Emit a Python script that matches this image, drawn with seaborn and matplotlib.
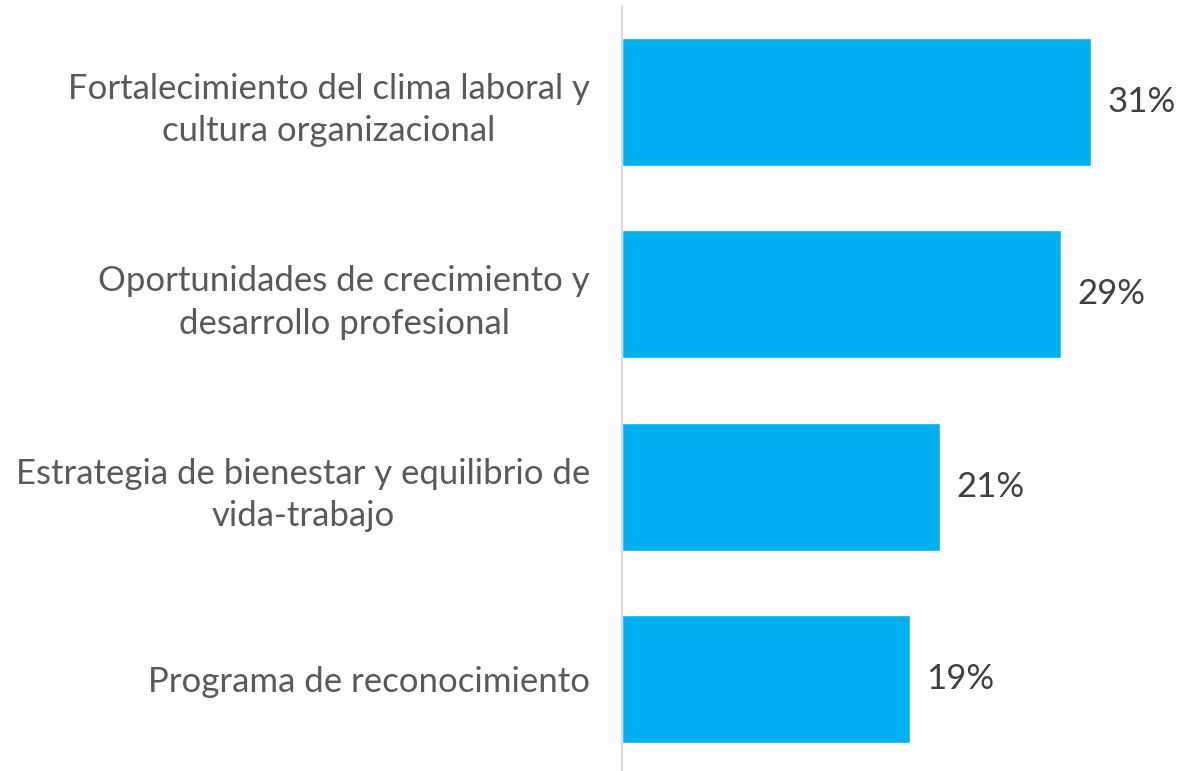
import matplotlib
matplotlib.use("Agg")
import matplotlib.pyplot as plt
import seaborn as sns
import pandas as pd

categories = ["Fortalecimiento del clima laboral y\ncultura organizacional",
              "Oportunidades de crecimiento y\ndesarrollo profesional",
              "Estrategia de bienestar y equilibrio de\nvida-trabajo",
              "Programa de reconocimiento"]
values = [31, 29, 21, 19]
value_labels = ["31%", "29%", "21%", "19%"]

sns.set_style("white")
plt.rcParams['font.family'] = ['Lato', 'DejaVu Sans']

df = pd.DataFrame({"cat": categories, "val": values})

fig = plt.figure(figsize=(11.82, 7.71), dpi=100)
ax = fig.add_axes([622 / 1182, 0, 1 - 622 / 1182, 1 - 6 / 771])
sns.barplot(data=df, y="cat", x="val", orient="h", color="#00B0F0",
            saturation=1, width=0.665, ax=ax)

ax.set_xlim(0, 37)
ax.set_ylim(3.478, -0.499)
ax.set_xlabel("")
ax.set_ylabel("")
ax.set_xticks([])
ax.tick_params(axis="y", length=0, pad=23)
for lab in ax.get_yticklabels():
    lab.set_fontsize(25)
    lab.set_color("#595959")
    lab.set_multialignment("center")
    lab.set_linespacing(1.4)

for s in ["top", "right", "bottom"]:
    ax.spines[s].set_visible(False)
ax.spines["left"].set_color("#D9D9D9")
ax.spines["left"].set_linewidth(1.5)

ax.bar_label(ax.containers[0], labels=value_labels, padding=12,
             fontsize=25, color="#404040")

fig.savefig("out.png", dpi=100)
